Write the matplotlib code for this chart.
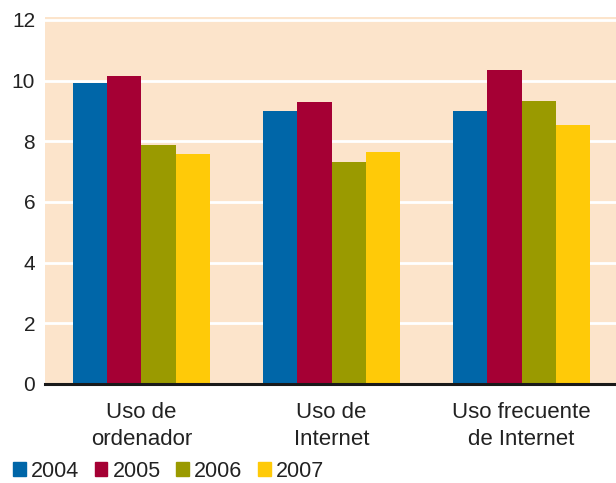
import matplotlib
matplotlib.use("Agg")
import matplotlib.pyplot as plt
import numpy as np
from matplotlib.patches import Patch

categories = ["Uso de\nordenador", "Uso de\nInternet", "Uso frecuente\nde Internet"]
years = ["2004", "2005", "2006", "2007"]
v2004 = [9.93, 9.01, 9.01]
v2005 = [10.16, 9.28, 10.33]
v2006 = [7.89, 7.30, 9.34]
v2007 = [7.57, 7.63, 8.52]
colors = ["#0066a8", "#a50034", "#9a9a00", "#ffca08"]

plt.rcParams['font.family'] = ['Liberation Sans', 'DejaVu Sans']

fig = plt.figure(figsize=(6.16, 4.83), dpi=100)
ax = fig.add_axes([0.073, 0.205, 0.927, 0.759])
ax.set_facecolor("#fce4cb")

x = np.arange(len(categories))
w = 0.18
for i, (vals, c) in enumerate(zip([v2004, v2005, v2006, v2007], colors)):
    ax.bar(x + (i - 1.5) * w, vals, w, color=c, zorder=3, label=years[i])

ax.set_xlim(-0.507, 2.496)
ax.set_ylim(0, 12.08)
ax.set_yticks(range(0, 13, 2))
ax.yaxis.grid(True, color="white", linewidth=2, zorder=1)
ax.set_axisbelow(True)
for s in ["top", "right", "left"]:
    ax.spines[s].set_visible(False)
ax.spines["bottom"].set_color("#1a1a1a")
ax.spines["bottom"].set_linewidth(2.2)
ax.spines["bottom"].set_zorder(4)
ax.tick_params(axis="both", length=0, labelsize=15, colors="#222222")
ax.tick_params(axis="y", pad=7)
ax.set_xticks(x)
ax.set_xticklabels(categories, fontsize=16, linespacing=1.35)
ax.tick_params(axis="x", pad=13)

handles = [Patch(color=c) for c in colors]
leg = fig.legend(handles, years, loc="center left", bbox_to_anchor=(0.021, 0.024), ncol=4,
                 frameon=False, fontsize=15.5, handlelength=0.6, handleheight=0.6,
                 handletextpad=0.25, columnspacing=0.7, borderpad=0, borderaxespad=0)
for t in leg.get_texts():
    t.set_color("#222222")

fig.savefig("out.png", dpi=100)
